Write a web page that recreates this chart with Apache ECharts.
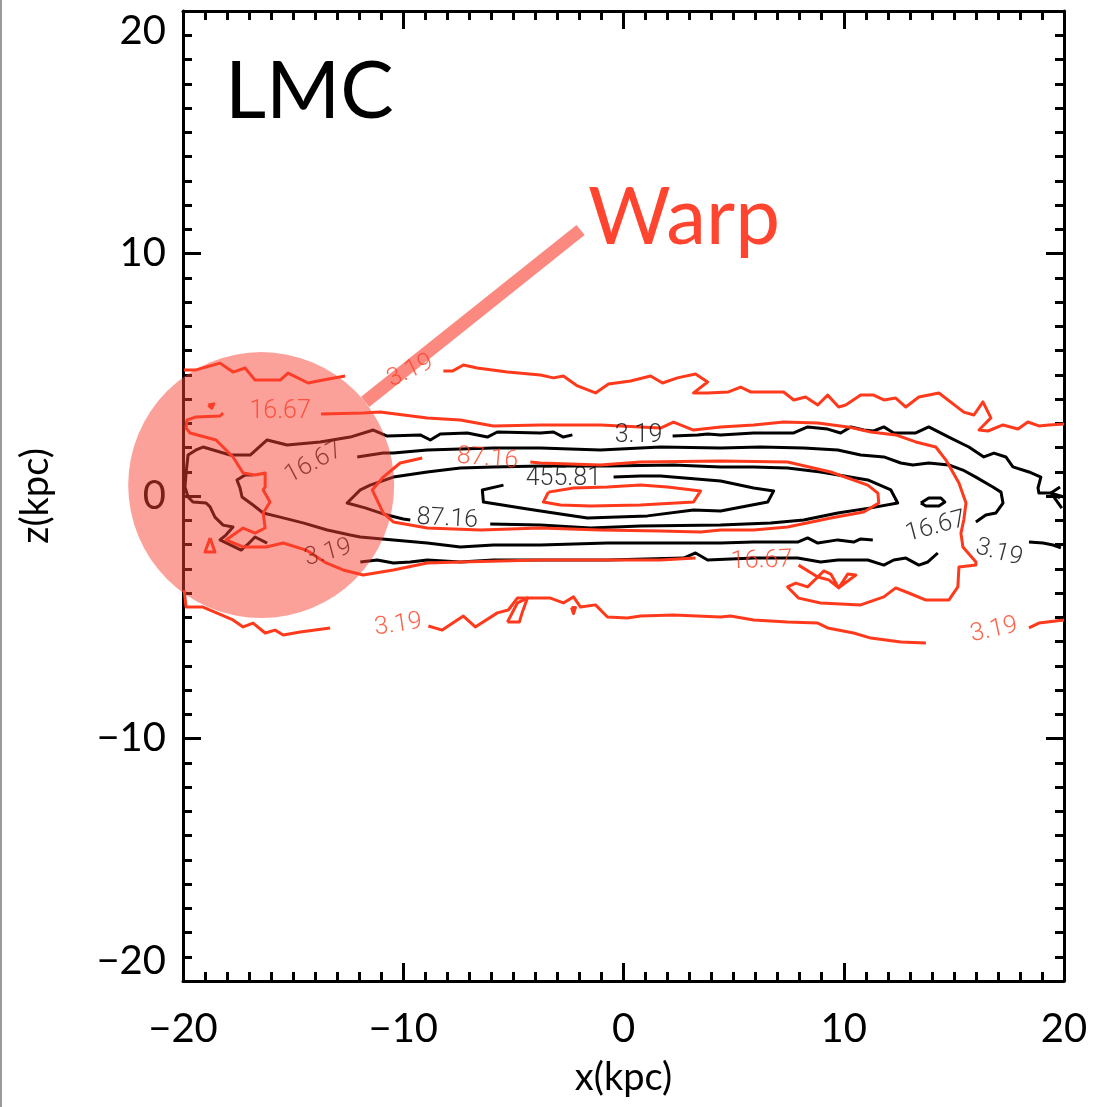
<!DOCTYPE html>
<html>
<head>
<meta charset="utf-8">
<title>LMC x-z density contours</title>
<script src="https://cdn.jsdelivr.net/npm/echarts@6/dist/echarts.min.js"></script>
<style>
  html, body { margin: 0; padding: 0; background: #fff; }
  #chart { width: 1093px; height: 1107px; }
</style>
</head>
<body>
<div id="chart"></div>
<script>
// Contour levels shared by both particle sets
const levels = [3.19, 16.67, 87.16, 455.81];

// Axis range and ticks (kpc)
const axisMin = -20, axisMax = 20, axisStep = 10;

// ---- Red contours: [x, z] in kpc ----
const red319TopA = [[-19.95,5.20],[-19.41,5.20],[-18.32,5.48],[-17.73,5.11],[-17.18,5.28],[-16.73,4.78],[-15.59,4.78],[-15.23,5.07],[-14.32,4.66],[-13.64,4.78],[-12.64,4.95]];
const red319TopB = [[-8.18,5.15],[-7.77,5.15],[-7.27,5.40],[-6.64,5.28],[-5.27,5.11],[-3.77,4.99],[-3.18,4.87],[-2.73,4.95],[-2.09,4.54],[-1.27,4.25],[-0.68,4.62],[0.32,4.74],[1.23,4.95],[1.77,4.66],[2.45,4.87],[3.27,5.03],[3.82,4.70],[3.18,4.25],[3.82,4.25],[4.77,4.29],[5.32,4.49],[5.77,4.29],[7.27,4.29],[7.73,3.96],[8.27,4.08],[8.82,3.75],[9.27,4.16],[9.77,3.67],[10.09,3.75],[10.77,4.16],[11.36,4.16],[11.82,3.96],[12.36,4.04],[12.82,3.67],[13.41,4.08],[14.32,4.25],[15.45,3.46],[15.91,3.34],[16.32,3.88],[16.68,3.22],[16.14,2.72],[16.55,2.68],[17.23,2.93],[17.91,2.76],[18.36,3.05],[18.86,2.89],[19.32,2.93],[20.0,2.97]];
const red319BotA = [[-19.95,-3.88],[-19.86,-4.58],[-19.09,-4.58],[-17.73,-5.11],[-17.27,-5.40],[-16.82,-5.24],[-16.27,-5.65],[-15.82,-5.53],[-15.45,-5.73],[-14.68,-5.61],[-13.32,-5.44]];
const red319BotB = [[-8.86,-5.36],[-8.23,-5.53],[-7.27,-4.95],[-6.73,-5.40],[-5.73,-4.82],[-5.23,-4.70],[-4.82,-4.21],[-3.77,-4.21],[-3.32,-4.21],[-2.73,-4.41],[-2.27,-4.16],[-1.95,-4.58],[-1.27,-4.49],[-0.73,-4.99],[0.18,-5.03],[0.77,-4.95],[2.27,-4.91],[4.41,-4.99],[4.86,-4.95],[5.91,-5.11],[7.45,-5.20],[8.82,-5.24],[9.27,-5.44],[10.45,-5.65],[11.23,-5.86],[12.59,-6.02],[13.73,-6.06]];
const red319BotC = [[18.41,-5.44],[18.86,-5.24],[20.0,-5.11]];
const red319IslandA = [[-5.27,-5.20],[-4.82,-4.41],[-4.36,-4.21],[-4.59,-4.78],[-4.73,-5.20],[-5.27,-5.20]];
const red319IslandB = [[-2.36,-4.60],[-2.18,-4.60],[-2.27,-4.85],[-2.36,-4.60]];

const red1667A = [[-13.73,3.38],[-11.82,3.42],[-11.05,3.46],[-8.91,3.22],[-7.41,3.13],[-5.91,2.89],[-3.77,2.93],[-1.05,2.93],[1.68,2.80],[2.27,3.05],[3.18,2.72],[4.41,2.85],[5.91,2.93],[7.27,3.05],[8.82,3.01],[10.18,2.85],[11.23,2.64],[12.36,2.52],[13.27,2.23],[14.18,2.02],[14.64,1.48],[15.23,0.54],[15.55,-0.29],[15.45,-0.99],[15.32,-1.53],[15.41,-2.10],[16.0,-2.72],[16.0,-2.85],[15.23,-2.93],[15.18,-3.75],[14.77,-4.29],[13.73,-4.29],[12.95,-4.00],[12.36,-3.79],[11.82,-4.16],[10.77,-4.49],[8.95,-4.41],[7.95,-4.21],[7.45,-3.75],[7.82,-3.59],[8.36,-3.75],[8.82,-3.34],[9.09,-3.09],[9.41,-3.22],[9.77,-3.79],[10.55,-3.26],[10.18,-3.22],[9.77,-3.79],[9.32,-3.46],[8.82,-3.34],[7.95,-2.85]];
const red1667B = [[3.27,-2.56],[1.68,-2.64],[-1.05,-2.64],[-3.77,-2.64],[-7.41,-2.72],[-8.91,-2.76],[-10.45,-3.05],[-11.82,-3.26],[-12.73,-3.05],[-13.5,-2.76],[-14.41,-2.23],[-15.45,-1.94],[-16.23,-2.10],[-17.27,-2.10],[-18.05,-1.81],[-17.27,-1.32],[-16.73,-1.53],[-16.27,-1.32],[-16.36,-0.70],[-16.05,-0.25],[-16.36,0.25],[-16.27,0.37],[-16.27,0.95],[-16.73,0.87],[-17.27,0.95],[-17.73,1.61],[-18.5,2.31],[-19.68,2.60],[-19.86,2.80],[-19.82,3.13],[-19.41,3.26],[-18.32,3.30],[-18.18,3.42]];
const red1667IslandA = [[-18.85,3.75],[-18.6,3.80],[-18.7,3.62],[-18.85,3.75]];
const red1667IslandB = [[-18.77,-1.73],[-19.0,-2.31],[-18.55,-2.31],[-18.77,-1.73]];

const red8716 = [[-4.23,1.40],[-3.77,1.36],[-1.05,1.28],[0.77,1.40],[4.41,1.44],[7.45,1.40],[9.41,0.99],[11.09,0.45],[11.55,0.12],[11.59,-0.29],[10.91,-0.66],[9.41,-0.91],[7.45,-1.28],[5.91,-1.40],[4.41,-1.40],[3.5,-1.48],[1.68,-1.44],[-1.05,-1.40],[-3.77,-1.32],[-6.5,-1.40],[-8.91,-1.32],[-10.45,-1.07],[-10.91,-0.70],[-11.41,0.25],[-10.91,0.78],[-10.14,1.36],[-9.14,1.57]];
const red45581 = [[-3.41,0.16],[-2.27,0.33],[-0.73,0.37],[0.77,0.45],[2.0,0.37],[3.5,0.21],[3.18,-0.25],[0.77,-0.37],[-1.5,-0.41],[-2.86,-0.37],[-3.64,-0.25],[-3.41,0.16]];

// ---- Black contours: [x, z] in kpc ----
const black319A = [[2.23,2.47],[3.36,2.52],[3.82,2.56],[4.41,2.52],[5.91,2.60],[7.73,2.60],[8.36,2.85],[9.27,2.76],[9.86,2.60],[10.32,2.85],[10.91,2.72],[11.36,2.68],[11.82,2.85],[12.27,2.60],[13.27,2.60],[13.86,2.85],[14.77,2.43],[15.68,2.02],[16.36,1.61],[16.82,1.77],[17.36,1.61],[17.68,1.20],[18.41,0.99],[18.95,0.78],[18.82,0.33],[18.86,0.12],[19.41,0.12],[20.0,-0.04]];
const black319B = [[-2.32,2.52],[-2.73,2.43],[-3.18,2.64],[-3.77,2.60],[-5.73,2.64],[-6.18,2.43],[-7.09,2.60],[-8.32,2.56],[-8.77,2.31],[-9.23,2.52],[-10.73,2.47],[-11.36,2.72],[-12.41,2.43],[-13.77,2.23],[-15.27,2.10],[-16.18,2.31],[-16.95,1.69],[-17.86,1.69],[-19.09,2.02],[-19.41,1.90],[-19.77,1.69],[-19.86,0.95],[-19.91,0.37],[-19.77,-0.04],[-19.55,-0.25],[-18.95,-0.29],[-18.77,-0.45],[-18.55,-0.87],[-18.18,-1.20],[-17.73,-1.28],[-18.05,-1.61],[-18.32,-1.81],[-17.36,-2.23],[-17.09,-2.02],[-16.73,-1.69],[-16.18,-1.94]];
const black319C = [[-11.95,-2.72],[-11.18,-2.64],[-10.45,-2.76],[-9.68,-2.72],[-8.91,-2.64],[-7.41,-2.72],[-5.91,-2.64],[-3.77,-2.64],[-0.73,-2.64],[2.73,-2.56],[3.27,-2.35],[3.82,-2.64],[5.91,-2.56],[7.91,-2.56],[8.95,-2.72],[9.73,-2.64],[11.09,-2.64],[11.82,-2.85],[12.27,-2.64],[12.82,-2.56],[13.41,-2.85],[13.82,-2.72],[14.27,-2.35]];
const black319D = [[18.41,-1.90],[19.05,-1.94],[19.5,-2.02],[19.86,-2.14]];
const black319EdgeA = [[19.82,0.37],[19.41,0.12],[19.82,-0.08]];
const black319EdgeB = [[19.45,0.08],[19.9,-0.50]];

const black1667A = [[-12.09,1.61],[-10.91,1.77],[-10.45,1.77],[-8.91,1.90],[-7.41,1.94],[-5.91,1.98],[-3.77,1.98],[-1.05,1.90],[1.68,2.02],[4.41,1.98],[6.23,2.02],[8.18,1.98],[9.73,1.90],[10.77,1.69],[11.82,1.61],[12.59,1.36],[13.14,1.28],[13.86,1.36],[14.77,1.28],[15.41,1.07],[16.0,0.78],[16.77,0.37],[17.14,0.16],[17.23,-0.29],[16.91,-0.70],[16.45,-0.78],[16.0,-1.07]];
const black1667B = [[11.32,-1.81],[10.77,-1.77],[10.45,-1.90],[9.73,-1.81],[8.82,-1.94],[8.36,-1.73],[7.91,-1.90],[5.91,-1.90],[4.41,-1.94],[-0.73,-1.94],[-3.77,-2.02],[-5.91,-2.02],[-7.41,-2.10],[-8.91,-1.94],[-10.45,-1.81],[-11.95,-1.69],[-12.41,-1.61],[-13.45,-1.40],[-14.55,-1.11],[-15.59,-0.87],[-16.36,-0.70],[-16.82,-0.37],[-17.32,-0.04],[-17.41,0.33],[-17.55,0.66],[-17.18,0.87],[-16.82,0.87]];
const black1667Island = [[13.5,-0.29],[13.86,-0.08],[14.41,-0.08],[14.59,-0.25],[14.32,-0.41],[13.73,-0.41],[13.5,-0.29]];

const black8716 = [[-6.05,-1.15],[-3.77,-1.20],[-1.5,-1.32],[0.77,-1.24],[4.41,-1.20],[6.68,-1.11],[8.18,-0.99],[9.73,-0.70],[11.23,-0.49],[12.45,-0.29],[12.14,0.25],[11.09,0.66],[8.95,0.99],[7.45,1.15],[5.91,1.20],[4.41,1.20],[2.27,1.28],[-0.73,1.24],[-3.77,1.24],[-5.91,1.20],[-7.41,1.15],[-8.91,0.99],[-10.45,0.78],[-11.5,0.45],[-11.95,0.25],[-12.55,-0.29],[-11.73,-0.49],[-10.91,-0.74],[-10.0,-0.95],[-9.68,-0.99]];
const black45581 = [[-0.45,0.78],[0.77,0.82],[1.68,0.82],[4.41,0.62],[5.91,0.33],[6.82,0.21],[6.55,-0.25],[4.41,-0.62],[3.18,-0.58],[1.09,-0.82],[-1.64,-0.91],[-2.86,-0.74],[-4.36,-0.54],[-6.36,-0.25],[-6.41,0.25],[-5.45,0.45]];

// Contour labels: [x, z, level index, angle in degrees]
const blackLabels = [[-2.73,0.70,3,0],[-8.0,-0.95,2,-3],[0.68,2.47,0,0],[-14.05,1.36,1,28],[-13.41,-2.35,0,15],[14.18,-1.28,1,15],[17.05,-2.35,0,-15]];
const redLabels = [[-9.68,5.15,0,25],[-15.59,3.46,1,0],[-6.18,1.53,2,-5],[6.27,-2.68,1,2],[-10.23,-5.32,0,8],[16.82,-5.53,0,12]];

// Warp highlight: disc centre and pointer from its rim
const warpCenter = [[-16.45, 0.45]];
const warpPointer = [[-11.73, 3.88], [-1.95, 10.97]];

const RED = '#ff3a1c';
const BLACK = '#000000';
const WARP_FILL = 'rgba(248,65,50,0.62)';

const redPieces = [red319TopA, red319TopB, red319BotA, red319BotB, red319BotC, red319IslandA, red319IslandB,
  red1667A, red1667B, red1667IslandA, red1667IslandB, red8716, red45581];
const blackPieces = [black319A, black319B, black319C, black319D, black319EdgeA, black319EdgeB,
  black1667A, black1667B, black1667Island, black8716, black45581];

function contourSeries(piece, color) {
  return {
    type: 'line', data: piece, symbol: 'none', showSymbol: false, silent: true,
    animation: false, z: 2,
    lineStyle: { color: color, width: 3, join: 'round' }
  };
}

function labelSeries(list, color) {
  return {
    type: 'scatter', symbolSize: 0, silent: true, animation: false, z: 3,
    data: list.map(l => ({
      value: [l[0], l[1]],
      label: { rotate: l[3] }
    })),
    label: {
      show: true, position: 'inside', color: color,
      fontFamily: 'Roboto', fontWeight: 300, fontSize: 25,
      formatter: p => levels[list[p.dataIndex][2]].toFixed(2)
    }
  };
}

const fmt = v => v < 0 ? '\u2212' + (-v) : String(v);
const axisFont = 'Lato';

const baseAxis = {
  type: 'value', min: axisMin, max: axisMax, interval: axisStep,
  splitLine: { show: false },
  axisLine: { show: true, onZero: false, lineStyle: { color: '#000', width: 3 } },
  axisTick: { show: true, inside: true, length: 18, lineStyle: { color: '#000', width: 3 } },
  minorTick: { show: true, splitNumber: 10, length: 9, lineStyle: { color: '#000', width: 3 } }
};

const chart = echarts.init(document.getElementById('chart'), null, { renderer: 'canvas' });
chart.setOption({
  animation: false,
  backgroundColor: '#fff',
  grid: { left: 183, right: 29, top: 11, bottom: 126 },
  xAxis: [
    Object.assign({}, baseAxis, {
      position: 'bottom',
      name: 'x(kpc)', nameLocation: 'middle', nameGap: 78,
      nameTextStyle: { fontFamily: axisFont, fontSize: 38, color: '#000' },
      axisLabel: { show: true, margin: 28, fontFamily: axisFont, fontSize: 40, color: '#000', formatter: fmt }
    }),
    Object.assign({}, baseAxis, { position: 'top', axisLabel: { show: false } })
  ],
  yAxis: [
    Object.assign({}, baseAxis, {
      position: 'left',
      name: 'z(kpc)', nameLocation: 'middle', nameGap: 128,
      nameTextStyle: { fontFamily: axisFont, fontSize: 38, color: '#000' },
      axisLabel: {
        show: true, margin: 17, fontFamily: axisFont, fontSize: 40, color: '#000', formatter: fmt,
        verticalAlignMaxLabel: 'top', verticalAlignMinLabel: 'bottom'
      }
    }),
    Object.assign({}, baseAxis, { position: 'right', axisLabel: { show: false } })
  ],
  series: [
    ...blackPieces.map(p => contourSeries(p, BLACK)),
    ...redPieces.map(p => contourSeries(p, RED)),
    labelSeries(blackLabels, BLACK),
    labelSeries(redLabels, RED),
    {
      type: 'scatter', data: warpCenter, symbol: 'circle', symbolSize: 266,
      silent: true, animation: false, z: 5,
      itemStyle: { color: WARP_FILL }
    },
    {
      type: 'line', data: warpPointer, symbol: 'none', silent: true, animation: false, z: 5,
      lineStyle: { color: WARP_FILL, width: 13, cap: 'butt' }
    }
  ],
  graphic: [
    { type: 'line', shape: { x1: 1, y1: 0, x2: 1, y2: 1107 }, style: { stroke: '#9a9a9a', lineWidth: 2 }, silent: true },
    { type: 'text', x: 225, y: 92, silent: true, z: 10,
      style: { text: 'LMC', fill: '#000', font: '80px Lato', verticalAlign: 'middle', align: 'left' } },
    { type: 'text', x: 588, y: 218, silent: true, z: 10,
      style: { text: 'Warp', fill: '#ff4530', font: '80px Lato', verticalAlign: 'middle', align: 'left' } }
  ]
});
</script>
</body>
</html>
